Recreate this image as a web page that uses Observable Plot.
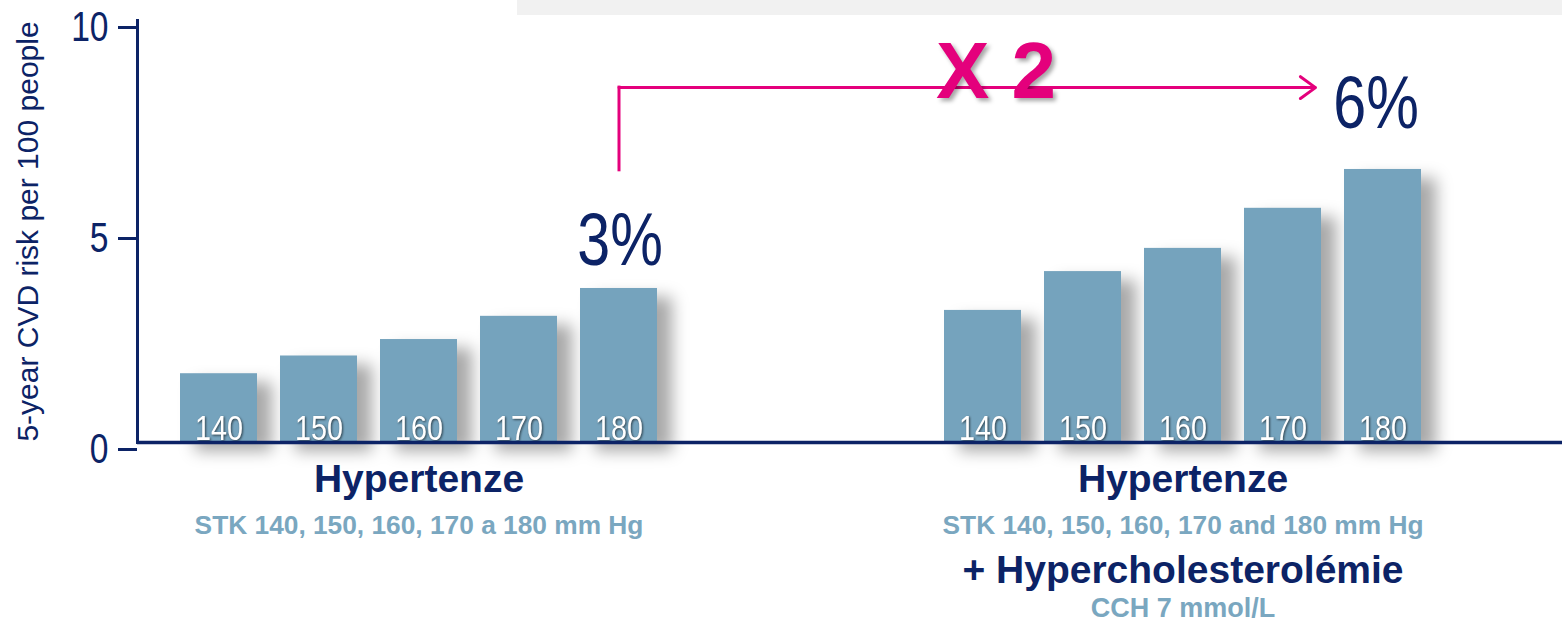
<!DOCTYPE html>
<html><head><meta charset="utf-8">
<script src="https://cdn.jsdelivr.net/npm/d3@7"></script>
<script src="https://cdn.jsdelivr.net/npm/@observablehq/plot@0.6"></script>
<style>
html,body{margin:0;padding:0;background:#fff;}
#wrap{position:relative;width:1562px;height:622px;overflow:hidden;}
#topband{position:absolute;left:517px;top:0;width:1045px;height:15px;background:#f1f1f1;z-index:2;}
g[aria-description="bars"]{filter:drop-shadow(15px 9px 8px rgba(0,0,0,0.34));}
g[aria-description="barlabels"]{filter:drop-shadow(1px 1px 1px rgba(0,0,0,0.6));}
g[aria-description="multiplier"]{filter:drop-shadow(3px 3px 2px rgba(0,0,0,0.35));}
</style></head><body><div id="wrap"><div id="topband"></div></div>
<script>
// ---- data ----
const sbpLevels = ["140", "150", "160", "170", "180"];
const riskHypertension = [1.63, 2.05, 2.44, 2.99, 3.65];
const riskHypertensionChol = [3.13, 4.05, 4.60, 5.55, 6.47];
const groupNames = ["Hypertenze", "Hypertenze"];
const groupSubtitles = ["STK 140, 150, 160, 170 a 180 mm Hg", "STK 140, 150, 160, 170 and 180 mm Hg"];
const extraName = "+ Hypercholesterolémie";
const extraSubtitle = "CCH 7 mmol/L";
const yTicks = [0, 5, 10];
const yLabel = "5-year CVD risk per 100 people";
const percentLabels = ["3%", "6%"];
const multiplierLabel = "X 2";
const arrowLevels = [6.45, 8.41];

// ---- layout ----
const NAVY = "#0c2366", BAR = "#75a3bd", SUB = "#7aa7c0", PINK = "#e4007c";
const SANS = "'Liberation Sans', Arial, sans-serif";
const groupGap = 7.64, barHalf = 0.385;
const rows = [
  ...sbpLevels.map((s, i) => ({group: 0, sbp: s, i, risk: riskHypertension[i]})),
  ...sbpLevels.map((s, i) => ({group: 1, sbp: s, i, risk: riskHypertensionChol[i]}))
];
const pos = (g, i) => g * groupGap + i;
const px = d => pos(d.group, d.i);
const groups = [0, 1].map(g => ({g, x: pos(g, 2), name: groupNames[g], sub: groupSubtitles[g]}));
const lastBars = [0, 1].map(g => rows.find(d => d.group === g && d.i === 4));

const chart = Plot.plot({
  width: 1562, height: 622,
  marginLeft: 137, marginRight: 0, marginTop: 20, marginBottom: 180,
  style: {fontFamily: SANS, background: "transparent", overflow: "visible"},
  x: {type: "linear", domain: [-0.815, 13.435], axis: null},
  y: {domain: [0, 10], axis: null},
  marks: [
    Plot.rectY(rows, {x1: d => px(d) - barHalf, x2: d => px(d) + barHalf, y: "risk", fill: BAR, ariaDescription: "bars"}),
    Plot.text(rows, {x: px, y: 0, text: "sbp", dy: -3, lineAnchor: "bottom", fill: "white", fontSize: 36, ariaDescription: "barlabels"}),
    Plot.axisY({ticks: yTicks, tickSize: 19, tickPadding: 10, fontSize: 42, color: NAVY, strokeWidth: 3, label: null, dy: 7}),
    Plot.frame({anchor: "left", stroke: NAVY, strokeWidth: 3}),
    Plot.ruleY([0], {stroke: NAVY, strokeWidth: 3.5}),
    Plot.text([yLabel], {frameAnchor: "left", textAnchor: "middle", dx: -109, rotate: -90, fontSize: 30, fill: NAVY}),
    // annotations
    Plot.text([lastBars[0]], {x: px, y: "risk", text: () => percentLabels[0], dx: 1, dy: -23, lineAnchor: "bottom", fontSize: 74, fill: NAVY, ariaDescription: "narrow"}),
    Plot.text([lastBars[1]], {x: px, y: "risk", text: () => percentLabels[1], dx: -7, dy: -41, lineAnchor: "bottom", fontSize: 74, fill: NAVY, ariaDescription: "narrow"}),
    Plot.ruleX([lastBars[0]], {x: px, y1: arrowLevels[0], y2: arrowLevels[1], stroke: PINK, strokeWidth: 3, strokeLinecap: "square"}),
    Plot.arrow([0], {x1: px(lastBars[0]), y1: arrowLevels[1], x2: px(lastBars[1]) - 0.675, y2: arrowLevels[1], stroke: PINK, strokeWidth: 3, headLength: 9.3, headAngle: 72}),
    Plot.text([multiplierLabel], {x: (px(lastBars[0]) + px(lastBars[1])) / 2 - 0.05, y: arrowLevels[1], text: d => d, dy: 10, lineAnchor: "bottom", fontSize: 80, fontWeight: "bold", fill: PINK, ariaDescription: "multiplier"}),
    // group labels
    Plot.text(groups, {x: "x", y: 0, text: "name", dy: 49, lineAnchor: "bottom", fontSize: 39, fontWeight: "bold", fill: NAVY}),
    Plot.text(groups, {x: "x", y: 0, text: "sub", dy: 91, lineAnchor: "bottom", fontSize: 26.3, fontWeight: "bold", fill: SUB}),
    Plot.text([groups[1]], {x: "x", y: 0, text: () => extraName, dy: 140, lineAnchor: "bottom", fontSize: 39, fontWeight: "bold", fill: NAVY}),
    Plot.text([groups[1]], {x: "x", y: 0, text: () => extraSubtitle, dy: 174, lineAnchor: "bottom", fontSize: 27, fontWeight: "bold", fill: SUB})
  ]
});

// condensed look for numeric labels (the reference uses a narrow face)
function narrow(el, k) {
  const x = el.getAttribute("x"), y = el.getAttribute("y");
  let t = el.getAttribute("transform") || "";
  const num = v => v != null && /^-?[\d.]+$/.test(v);
  if (num(x) || num(y)) {
    t = `translate(${num(x) ? x : 0},${num(y) ? y : 0}) ` + t;
    if (num(x)) el.removeAttribute("x");
    if (num(y)) el.removeAttribute("y");
  }
  el.setAttribute("transform", t + ` scale(${k},1)`);
}
chart.querySelectorAll('g[aria-description="narrow"] text, g[aria-description="barlabels"] text, g[aria-label="y-axis tick label"] text')
  .forEach(el => narrow(el, 0.8));

document.getElementById("wrap").appendChild(chart);
</script>
</body></html>
